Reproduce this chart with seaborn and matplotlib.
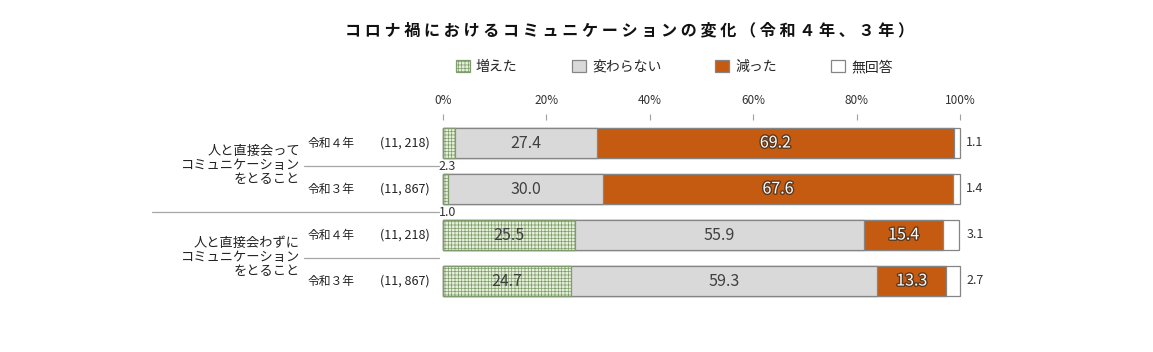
import numpy as np
import pandas as pd
import matplotlib
matplotlib.use('Agg')
import matplotlib.pyplot as plt
import matplotlib.patheffects as pe
from matplotlib.transforms import blended_transform_factory
import seaborn as sns

# %% data
title = 'コロナ禍におけるコミュニケーションの変化（令和４年、３年）'
responses = ['増えた', '変わらない', '減った', '無回答']
groups = ['人と直接会って\nコミュニケーション\nをとること',
          '人と直接会わずに\nコミュニケーション\nをとること']
years = ['令和４年', '令和３年', '令和４年', '令和３年']
sample_sizes = ['(11, 218)', '(11, 867)', '(11, 218)', '(11, 867)']
increased = [2.3, 1.0, 25.5, 24.7]
unchanged = [27.4, 30.0, 55.9, 59.3]
decreased = [69.2, 67.6, 15.4, 13.3]
no_answer = [1.1, 1.4, 3.1, 2.7]
xticks = [0, 20, 40, 60, 80, 100]

rows = ['r0', 'r1', 'r2', 'r3']
df = pd.DataFrame({'row': rows, '増えた': increased, '変わらない': unchanged,
                   '減った': decreased, '無回答': no_answer})
cum = df[responses].cumsum(axis=1)

# %% style
sns.set_theme(style='white')
plt.rcParams['font.family'] = ['Noto Sans CJK JP', 'DejaVu Sans']
plt.rcParams['hatch.linewidth'] = 0.5

colors = {'増えた': '#e4eed8', '変わらない': '#d9d9d9', '減った': '#c55a11', '無回答': '#ffffff'}
edge = '#858585'

fig = plt.figure(figsize=(11.53, 3.52), dpi=100)
ax = fig.add_axes([443 / 1153, 1 - 304 / 352, 517 / 1153, 184 / 352])

# stacked bars drawn longest first, each ends at its cumulative total
for resp in responses[::-1]:
    ec = '#7f9c6c' if resp == '増えた' else edge
    sns.barplot(x=cum[resp], y=df['row'], orient='h', color=colors[resp],
                saturation=1, width=0.65, edgecolor=ec, linewidth=0.9, ax=ax)
for c in ax.containers:
    for p in c:
        p.set_clip_on(False)
for p in ax.containers[-1]:
    p.set_hatch('+++++')

ax.set_xlim(0, 100)
ax.set_ylim(3.5, -0.5)
ax.set_xticks(xticks)
ax.set_xticklabels([f'{t}%' for t in xticks])
ax.xaxis.tick_top()
ax.tick_params(axis='x', top=True, bottom=False, labeltop=True, labelbottom=False,
               length=4, width=0.8, color='#a0a0a0', pad=5, labelsize=8.5, labelcolor='#333333')
ax.set_yticks([])
ax.set_xlabel('')
ax.set_ylabel('')
for s in ax.spines.values():
    s.set_visible(False)

# %% value labels
outline = [pe.withStroke(linewidth=2, foreground='#5a3a20')]
for i in range(len(rows)):
    left = 0
    for resp in responses[:3]:
        v = df[resp][i]
        mid = left + v / 2
        if resp == '増えた' and v < 5:
            ax.text(-0.8, i + 0.5, f'{v:.1f}', ha='left', va='center', fontsize=9, color='#333333')
        elif resp == '減った':
            ax.text(mid, i, f'{v:.1f}', ha='center', va='center', fontsize=11.5,
                    color='white', path_effects=outline)
        else:
            ax.text(mid, i, f'{v:.1f}', ha='center', va='center', fontsize=11.5, color='#404040')
        left += v
    ax.text(101.2, i, f'{no_answer[i]:.1f}', ha='left', va='center', fontsize=9, color='#333333')

# %% left-hand labels
tr = blended_transform_factory(fig.transFigure, ax.transData)
for i in range(len(rows)):
    ax.text(308 / 1153, i, years[i], transform=tr, ha='left', va='center', fontsize=8.5, color='#222222')
    ax.text(430 / 1153, i, sample_sizes[i], transform=tr, ha='right', va='center', fontsize=9, color='#222222')
for g, label in enumerate(groups):
    ax.text(300 / 1153, 2 * g + 0.5, label, transform=tr, ha='right', va='center',
            fontsize=9.5, linespacing=1.1, color='#222222')

line_kw = dict(transform=tr, color='#a6a6a6', linewidth=0.9, clip_on=False)
ax.plot([304 / 1153, 439 / 1153], [0.5, 0.5], **line_kw)
ax.plot([152 / 1153, 439 / 1153], [1.5, 1.5], **line_kw)
ax.plot([304 / 1153, 439 / 1153], [2.5, 2.5], **line_kw)

# %% legend and title
conts = ax.containers
handles = [conts[3], conts[2], conts[1], conts[0]]
fig.legend(handles, responses, loc='center', bbox_to_anchor=(0.585, 1 - 67 / 352), ncol=4,
           frameon=False, fontsize=10, handlelength=1.0, handleheight=1.0,
           handletextpad=0.45, columnspacing=3.9)

fig.text(630 / 1153, 1 - 30 / 352, ' '.join(title), ha='center', va='center',
         fontsize=11.6, fontweight='bold', color='#111111')

plt.savefig('out.png', dpi=100)
